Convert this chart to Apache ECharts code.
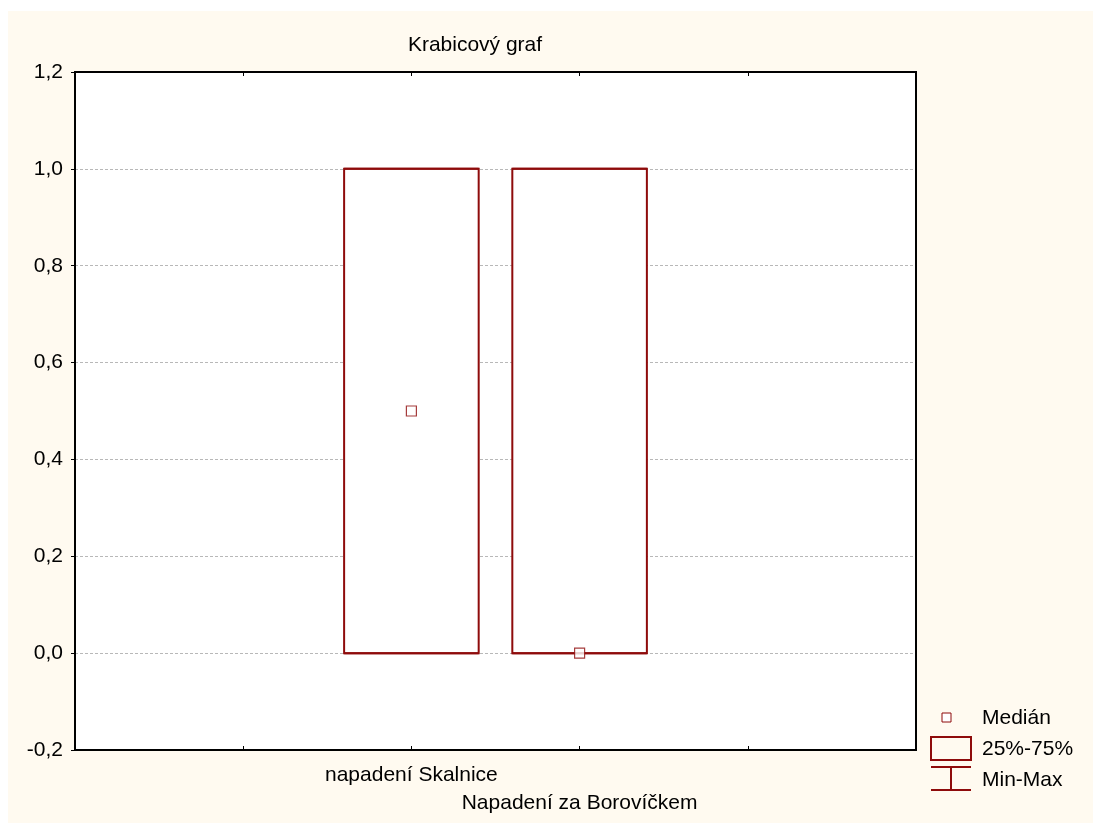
<!DOCTYPE html>
<html>
<head>
<meta charset="utf-8">
<script src="https://cdn.jsdelivr.net/npm/echarts@6/dist/echarts.min.js"></script>
<style>
html,body{margin:0;padding:0;background:#fff;}
#c{width:1093px;height:825px;}
</style>
</head>
<body>
<div id="c"></div>
<script>
// Data
const categories = ['napadení Skalnice', 'Napadení za Borovíčkem'];
const positions = [2, 3];
const minVals = [0, 0];
const q1Vals = [0, 0];
const medianVals = [0.5, 0];
const q3Vals = [1, 1];
const maxVals = [1, 1];
const yTicks = [-0.2, 0, 0.2, 0.4, 0.6, 0.8, 1.0, 1.2];
const legendLabels = ['Medián', '25%-75%', 'Min-Max'];
const titleText = 'Krabicový graf';

const RED = '#8e0b0b';
const FONT = 'Liberation Sans';
const FS = 21;
const FONTSTR = FS + 'px "Liberation Sans"';

const chart = echarts.init(document.getElementById('c'), null, {renderer: 'canvas'});

const boxData = positions.map((p, i) => [p, minVals[i], q1Vals[i], q3Vals[i], maxVals[i]]);
const medData = positions.map((p, i) => [p, medianVals[i]]);

const option = {
  animation: false,
  backgroundColor: '#ffffff',
  graphic: [
    {type: 'rect', z: -10, shape: {x: 8, y: 11, width: 1085, height: 812}, style: {fill: '#fffaf0'}},
    {type: 'text', x: 475, y: 45, style: {text: titleText, font: FONTSTR, fill: '#000', align: 'center', verticalAlign: 'middle'}},
    // legend
    {type: 'rect', shape: {x: 942, y: 713, width: 9, height: 9}, style: {fill: '#fff', stroke: RED, lineWidth: 1}},
    {type: 'rect', shape: {x: 931, y: 737, width: 40, height: 23}, style: {fill: 'none', stroke: RED, lineWidth: 2}},
    {type: 'line', shape: {x1: 931, y1: 767, x2: 971, y2: 767}, style: {stroke: RED, lineWidth: 2}},
    {type: 'line', shape: {x1: 931, y1: 790, x2: 971, y2: 790}, style: {stroke: RED, lineWidth: 2}},
    {type: 'line', shape: {x1: 951, y1: 767, x2: 951, y2: 790}, style: {stroke: RED, lineWidth: 2}},
    {type: 'text', x: 982, y: 718, style: {text: legendLabels[0], font: FONTSTR, fill: '#000', verticalAlign: 'middle'}},
    {type: 'text', x: 982, y: 749, style: {text: legendLabels[1], font: FONTSTR, fill: '#000', verticalAlign: 'middle'}},
    {type: 'text', x: 982, y: 780, style: {text: legendLabels[2], font: FONTSTR, fill: '#000', verticalAlign: 'middle'}}
  ],
  grid: {
    left: 75, top: 72, right: 177, bottom: 75,
    show: true, backgroundColor: '#ffffff', borderColor: '#000', borderWidth: 2, z: 0
  },
  xAxis: [{
    type: 'value', min: 0, max: 5, interval: 1,
    axisLine: {show: true, onZero: false, lineStyle: {color: '#000', width: 2}},
    axisTick: {show: true, inside: true, length: 4, lineStyle: {color: '#000', width: 1}},
    splitLine: {show: false},
    axisLabel: {
      show: true, margin: 11, hideOverlap: false, showMinLabel: true, showMaxLabel: true,
      fontFamily: FONT, fontSize: FS, color: '#000', lineHeight: 28,
      formatter: function (v) {
        const idx = positions.indexOf(v);
        if (idx < 0) return '';
        return (idx % 2 === 1 ? '\n' : '') + categories[idx];
      }
    }
  }, {
    type: 'value', position: 'top', min: 0, max: 5, interval: 1,
    axisLine: {show: true, onZero: false, lineStyle: {color: '#000', width: 2}},
    axisTick: {show: true, inside: true, length: 4, lineStyle: {color: '#000', width: 1}},
    axisLabel: {show: false}, splitLine: {show: false}
  }],
  yAxis: [{
    type: 'value', min: yTicks[0], max: yTicks[yTicks.length - 1], interval: 0.2,
    axisLine: {show: true, onZero: false, lineStyle: {color: '#000', width: 2}},
    axisTick: {show: true, inside: false, length: 4, lineStyle: {color: '#000', width: 1}},
    splitLine: {show: true, lineStyle: {color: '#b8b8b8', type: [3, 2], width: 1}},
    axisLabel: {
      margin: 12, fontFamily: FONT, fontSize: FS, color: '#000',
      formatter: v => v.toFixed(1).replace('.', ',')
    }
  }, {
    type: 'value', position: 'right', min: yTicks[0], max: yTicks[yTicks.length - 1], interval: 0.2,
    axisLine: {show: true, onZero: false, lineStyle: {color: '#000', width: 2}},
    axisTick: {show: false}, axisLabel: {show: false}, splitLine: {show: false}
  }],
  series: [{
    type: 'custom',
    name: legendLabels[1],
    data: boxData,
    z: 5,
    renderItem: function (params, api) {
      const x = api.value(0);
      const mn = api.value(1), q1 = api.value(2), q3 = api.value(3), mx = api.value(4);
      const half = 0.4;
      const pL = api.coord([x - half, q3]);
      const pR = api.coord([x + half, q1]);
      const pMin = api.coord([x, mn]);
      const pMax = api.coord([x, mx]);
      const pQ1 = api.coord([x, q1]);
      const pQ3 = api.coord([x, q3]);
      const wL = api.coord([x - half, 0])[0];
      const wR = api.coord([x + half, 0])[0];
      return {
        type: 'group',
        children: [
          {type: 'rect', shape: {x: pL[0], y: pL[1], width: pR[0] - pL[0], height: pR[1] - pL[1]},
           style: {fill: '#fff', stroke: RED, lineWidth: 2}},
          {type: 'line', shape: {x1: pQ3[0], y1: pQ3[1], x2: pMax[0], y2: pMax[1]}, style: {stroke: RED, lineWidth: 2}},
          {type: 'line', shape: {x1: pQ1[0], y1: pQ1[1], x2: pMin[0], y2: pMin[1]}, style: {stroke: RED, lineWidth: 2}},
          {type: 'line', shape: {x1: wL, y1: pMax[1], x2: wR, y2: pMax[1]}, style: {stroke: RED, lineWidth: 2}},
          {type: 'line', shape: {x1: wL, y1: pMin[1], x2: wR, y2: pMin[1]}, style: {stroke: RED, lineWidth: 2}}
        ]
      };
    }
  }, {
    type: 'scatter',
    name: legendLabels[0],
    data: medData,
    z: 10,
    symbol: 'rect',
    symbolSize: 10,
    itemStyle: {color: '#fff', borderColor: RED, borderWidth: 1.2}
  }]
};
chart.setOption(option);
</script>
</body>
</html>
